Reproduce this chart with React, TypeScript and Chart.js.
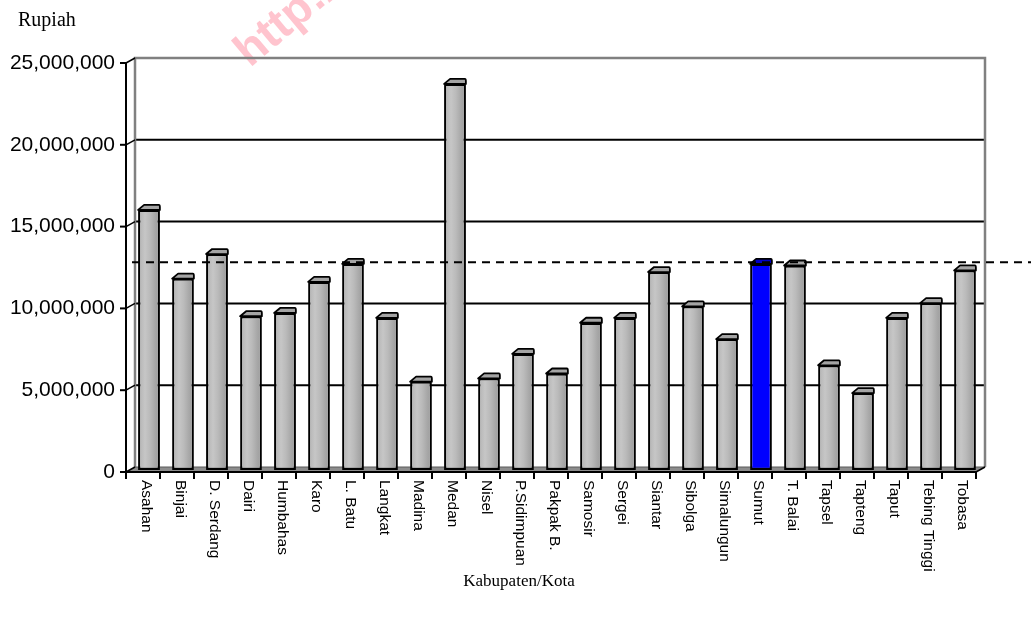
import { useEffect, useRef } from "react";
import { Chart, registerables } from "chart.js";

Chart.register(...registerables);

const categories = [
  "Asahan", "Binjai", "D. Serdang", "Dairi", "Humbahas", "Karo", "L. Batu", "Langkat",
  "Madina", "Medan", "Nisel", "P.Sidimpuan", "Pakpak B.", "Samosir", "Sergei", "Siantar",
  "Sibolga", "Simalungun", "Sumut", "T. Balai", "Tapsel", "Tapteng", "Taput", "Tebing Tinggi", "Tobasa",
];
const values = [
  15900000, 11700000, 13200000, 9400000, 9600000, 11500000, 12600000, 9300000,
  5400000, 23600000, 5600000, 7100000, 5900000, 9000000, 9300000, 12100000,
  10000000, 8000000, 12600000, 12500000, 6400000, 4700000, 9300000, 10200000, 12200000,
];
const highlightCategory = "Sumut";
const averageValue = 12700000;
const yTicks = [0, 5000000, 10000000, 15000000, 20000000, 25000000];
const yTitle = "Rupiah";
const xTitle = "Kabupaten/Kota";
const watermark = "http://";

const FDX = -6, FDY = 2, BDX = 3, BDY = -3;

const framePlugin = {
  id: "frame3d",
  beforeDraw(chart: any) {
    const ctx = chart.ctx;
    ctx.save();
    ctx.fillStyle = "#ffffff";
    ctx.fillRect(0, 0, chart.width, chart.height);
    ctx.translate(250, 68);
    ctx.rotate(-0.7);
    ctx.font = "bold 46px 'Liberation Sans', Arial, sans-serif";
    ctx.fillStyle = "#ffc4ce";
    ctx.textBaseline = "alphabetic";
    ctx.fillText(watermark, 0, 0);
    ctx.restore();
  },
  beforeDatasetsDraw(chart: any) {
    const ctx = chart.ctx;
    const ca = chart.chartArea;
    const ys = chart.scales.y;
    const yMax = yTicks[yTicks.length - 1];
    const bL = ca.left + BDX, bR = ca.right + BDX;
    const fL = ca.left + FDX, fR = ca.right + FDX;
    const yb = (v: number) => ys.getPixelForValue(v) + BDY;
    const yf = (v: number) => ys.getPixelForValue(v) + FDY;
    ctx.save();
    ctx.strokeStyle = "#000000";
    ctx.lineWidth = 2;
    yTicks.forEach((v) => {
      if (v === 0 || v === yMax) return;
      ctx.beginPath();
      ctx.moveTo(bL, yb(v));
      ctx.lineTo(bR, yb(v));
      ctx.stroke();
    });
    ctx.strokeStyle = "#808080";
    ctx.lineWidth = 2.5;
    ctx.beginPath();
    ctx.moveTo(bL, yb(0));
    ctx.lineTo(bL, yb(yMax));
    ctx.lineTo(bR, yb(yMax));
    ctx.lineTo(bR, yb(0));
    ctx.stroke();
    ctx.beginPath();
    ctx.moveTo(fL, yf(0));
    ctx.lineTo(bL, yb(0));
    ctx.lineTo(bR, yb(0));
    ctx.lineTo(fR, yf(0));
    ctx.closePath();
    ctx.fillStyle = "#8c8c8c";
    ctx.fill();
    ctx.strokeStyle = "#5a5a5a";
    ctx.lineWidth = 1;
    ctx.beginPath();
    ctx.moveTo(bL, yb(0));
    ctx.lineTo(bR, yb(0));
    ctx.stroke();
    ctx.strokeStyle = "#000000";
    ctx.lineWidth = 1.5;
    ctx.beginPath();
    ctx.moveTo(fR, yf(0));
    ctx.lineTo(bR, yb(0));
    ctx.stroke();
    ctx.strokeStyle = "#000000";
    ctx.lineWidth = 2;
    ctx.beginPath();
    ctx.moveTo(fL, yf(yMax));
    ctx.lineTo(fL, yf(0));
    ctx.stroke();
    yTicks.forEach((v) => {
      ctx.lineWidth = 2;
      ctx.beginPath();
      ctx.moveTo(fL - 6, yf(v));
      ctx.lineTo(fL, yf(v));
      ctx.stroke();
      ctx.lineWidth = 1.5;
      ctx.beginPath();
      ctx.moveTo(fL, yf(v));
      ctx.lineTo(bL, yb(v));
      ctx.stroke();
    });
    ctx.lineWidth = 2;
    ctx.beginPath();
    ctx.moveTo(fL, yf(0));
    ctx.lineTo(fR, yf(0));
    ctx.stroke();
    const n = categories.length;
    const step = (ca.right - ca.left) / n;
    for (let i = 0; i <= n; i++) {
      const x = fL + i * step;
      ctx.beginPath();
      ctx.moveTo(x, yf(0));
      ctx.lineTo(x, yf(0) + 7);
      ctx.stroke();
    }
    ctx.restore();
  },
  afterDatasetsDraw(chart: any) {
    const ctx = chart.ctx;
    const ca = chart.chartArea;
    const ys = chart.scales.y;
    const xs = chart.scales.x;
    const meta = chart.getDatasetMeta(0);
    ctx.save();
    meta.data.forEach((el: any, i: number) => {
      const L = el.x - el.width / 2;
      const R = el.x + el.width / 2;
      const y = el.y;
      ctx.beginPath();
      ctx.moveTo(L, y);
      ctx.lineTo(L + 6, y - 5);
      ctx.lineTo(R - 1, y - 5);
      ctx.quadraticCurveTo(R, y - 5, R, y - 3);
      ctx.lineTo(R, y);
      ctx.closePath();
      ctx.fillStyle = categories[i] === highlightCategory ? "#0000c8" : "#a4a4a4";
      ctx.fill();
      ctx.strokeStyle = "#000000";
      ctx.lineWidth = 1.8;
      ctx.lineJoin = "round";
      ctx.stroke();
    });
    const ya = ys.getPixelForValue(averageValue);
    ctx.strokeStyle = "#000000";
    ctx.lineWidth = 2;
    ctx.setLineDash([8, 6]);
    ctx.beginPath();
    ctx.moveTo(ca.left, ya);
    ctx.lineTo(chart.width, ya);
    ctx.stroke();
    ctx.setLineDash([]);
    ctx.fillStyle = "#000000";
    ctx.font = "15.5px 'Liberation Sans', Arial, sans-serif";
    ctx.textAlign = "left";
    ctx.textBaseline = "middle";
    const yl = ys.getPixelForValue(0) + FDY + 8;
    categories.forEach((c, i) => {
      const x = xs.getPixelForValue(i) - 3;
      ctx.save();
      ctx.translate(x, yl);
      ctx.rotate(Math.PI / 2);
      ctx.fillText(c, 0, 0);
      ctx.restore();
    });
    ctx.textBaseline = "alphabetic";
    ctx.font = "20px 'Liberation Serif', 'Times New Roman', serif";
    ctx.textAlign = "left";
    ctx.fillText(yTitle, 18, 26);
    ctx.font = "17px 'Liberation Serif', 'Times New Roman', serif";
    ctx.textAlign = "center";
    ctx.fillText(xTitle, 519, 586);
    ctx.restore();
  },
};

export default function App() {
  const ref = useRef<HTMLCanvasElement | null>(null);
  useEffect(() => {
    document.body.style.margin = "0";
    const canvas = ref.current;
    if (!canvas) return;
    const chart = new Chart(canvas, {
      type: "bar",
      data: {
        labels: categories,
        datasets: [
          {
            data: values,
            backgroundColor: (c: any) => {
              const i = c.dataIndex;
              if (i === undefined) return "#b8b8b8";
              if (categories[i] === highlightCategory) return "#0000ff";
              const chartRef = c.chart;
              if (!chartRef.chartArea) return "#b8b8b8";
              const x = chartRef.scales.x.getPixelForValue(i);
              const g = chartRef.ctx.createLinearGradient(x - 10, 0, x + 10, 0);
              g.addColorStop(0, "#b4b4b4");
              g.addColorStop(0.3, "#c6c6c6");
              g.addColorStop(0.55, "#bababa");
              g.addColorStop(0.8, "#a8a8a8");
              g.addColorStop(1, "#9c9c9c");
              return g;
            },
            borderColor: "#000000",
            borderWidth: 2.2,
            borderSkipped: false,
            barPercentage: 0.64,
            categoryPercentage: 1,
          },
        ],
      },
      options: {
        animation: false,
        responsive: false,
        devicePixelRatio: 1,
        layout: { padding: { left: 0, top: 61, right: 49, bottom: 151 } },
        plugins: { legend: { display: false }, tooltip: { enabled: false } },
        scales: {
          x: { display: false },
          y: {
            min: 0,
            max: 25000000,
            afterFit: (s: any) => {
              s.width = 132;
            },
            afterBuildTicks: (s: any) => {
              s.ticks = yTicks.map((v) => ({ value: v }));
            },
            grid: { display: false, drawTicks: false },
            border: { display: false },
            ticks: {
              padding: 17,
              labelOffset: 2,
              color: "#000000",
              font: { family: "'Liberation Sans', Arial, sans-serif", size: 21 },
              callback: (v: any) => Number(v).toLocaleString("en-US"),
            },
          },
        },
      },
      plugins: [framePlugin],
    });
    return () => chart.destroy();
  }, []);
  return (
    <div style={{ width: 1031, height: 621 }}>
      <canvas ref={ref} width={1031} height={621} style={{ display: "block" }} />
    </div>
  );
}
